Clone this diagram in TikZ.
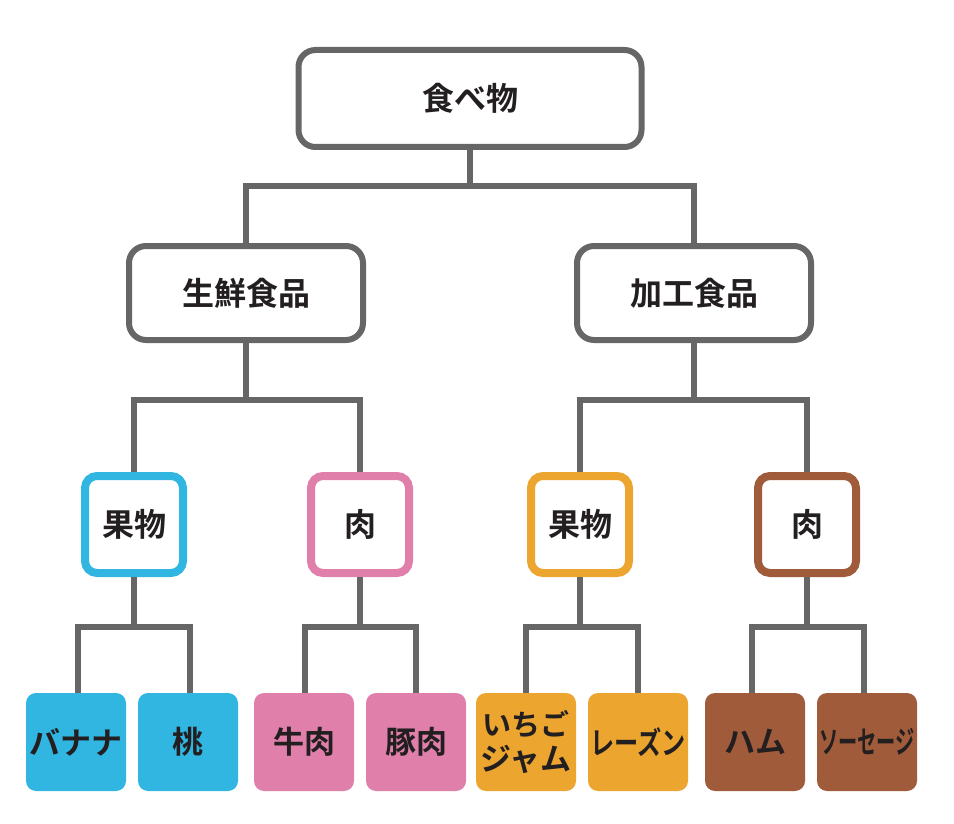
\documentclass[tikz,border=0pt]{standalone}
\usepackage{fontspec}
\setmainfont{Noto Sans CJK JP Bold}
\usetikzlibrary{positioning}
\definecolor{cgray}{HTML}{666666}
\definecolor{ctext}{HTML}{231F20}
\definecolor{cblue}{HTML}{31B6E1}
\definecolor{cpink}{HTML}{E07FAA}
\definecolor{corange}{HTML}{ECA52F}
\definecolor{cbrown}{HTML}{A05B3B}
\tikzset{
  box/.style={draw=cgray, line width=6pt, fill=white, rounded corners=17pt,
    text=ctext, font=\fontsize{32}{36}\selectfont, inner sep=0pt,
    minimum width=234pt, minimum height=94pt},
  topbox/.style={box, minimum width=343pt, minimum height=97pt},
  midbox/.style={draw=#1, line width=8pt, fill=white, rounded corners=12pt,
    text=ctext, font=\fontsize{32}{36}\selectfont, inner sep=0pt,
    minimum width=98pt, minimum height=97pt},
  leaf/.style={fill=#1, rounded corners=10pt, text=ctext,
    font=\fontsize{31}{35}\selectfont, inner sep=0pt, align=center,
    minimum width=100pt, minimum height=98pt},
  conn/.style={draw=cgray, line width=5.5pt}
}
\begin{document}
\begin{tikzpicture}[x=1pt,y=-1pt]
\useasboundingbox (0,0) rectangle (954,824);
% level 1
\node[topbox] (top) at (470,98.5) {食べ物};
% level 2
\node[box] (fresh) at (246,293) {生鮮食品};
\node[box] (proc) at (694,293) {加工食品};
% level 3
\node[midbox=cblue] (fruitA) at (134,524.5) {果物};
\node[midbox=cpink] (meatA) at (360,524.5) {肉};
\node[midbox=corange] (fruitB) at (580,524.5) {果物};
\node[midbox=cbrown] (meatB) at (807,524.5) {肉};
% leaves
\node[leaf=cblue] (banana) at (76,742) {バナナ};
\node[leaf=cblue] (peach) at (188,742) {桃};
\node[leaf=cpink] (beef) at (304,742) {牛肉};
\node[leaf=cpink] (pork) at (416,742) {豚肉};
\node[leaf=corange] (jam) at (526,742) {\fontsize{29}{35}\selectfont いちご\\ジャム};
\node[leaf=corange] (raisin) at (638,742) {\scalebox{0.78}[1]{レーズン}};
\node[leaf=cbrown] (ham) at (755,742) {ハム};
\node[leaf=cbrown] (sausage) at (867,742) {\scalebox{0.62}[1]{ソーセージ}};
% junctions
\coordinate (j0) at (470,186);
\coordinate (j1) at (246,400);
\coordinate (j2) at (694,400);
\coordinate (k1) at (134,627);
\coordinate (k2) at (360,627);
\coordinate (k3) at (580,627);
\coordinate (k4) at (807,627);
\draw[conn] (top.south) -- (j0);
\draw[conn] (fresh.north) |- (j0) -| (proc.north);
\draw[conn] (fresh.south) -- (j1);
\draw[conn] (fruitA.north) |- (j1) -| (meatA.north);
\draw[conn] (proc.south) -- (j2);
\draw[conn] (fruitB.north) |- (j2) -| (meatB.north);
\draw[conn] (fruitA.south) -- (k1);
\draw[conn] ([xshift=2pt]banana.north) |- (k1) -| ([xshift=2pt]peach.north);
\draw[conn] (meatA.south) -- (k2);
\draw[conn] ([xshift=1pt]beef.north) |- (k2) -| (pork.north);
\draw[conn] (meatB.south) -- (k4);
\draw[conn] (fruitB.south) -- (k3);
\draw[conn] (jam.north) |- (k3) -| (raisin.north);
\draw[conn] ([xshift=-3pt]ham.north) |- (k4) -| ([xshift=-3pt]sausage.north);
\end{tikzpicture}
\end{document}
